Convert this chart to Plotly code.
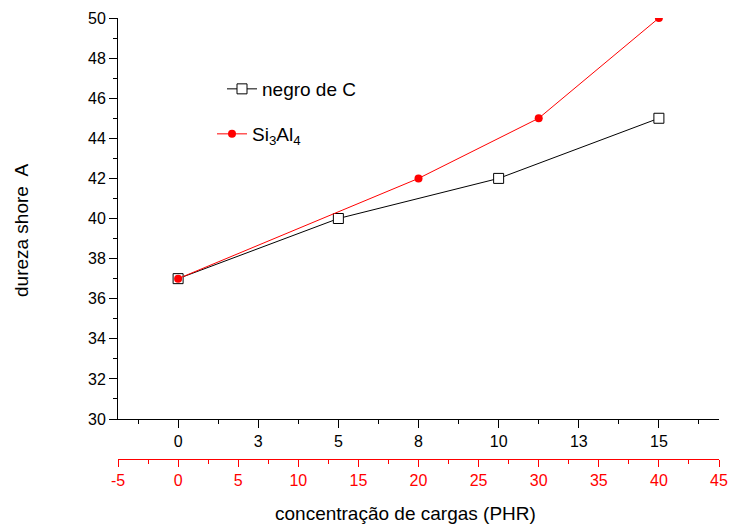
import plotly.graph_objects as go

# ---- data ----
negro_x = [0, 5, 10, 15]
negro_y = [37, 40, 42, 45]
si_x = [0, 20, 30, 40]
si_y = [37, 42, 45, 50]

black_tickvals = [0, 2.5, 5, 7.5, 10, 12.5, 15]
black_ticktext = ["0", "3", "5", "8", "10", "13", "15"]
red_tickvals = [-5, 0, 5, 10, 15, 20, 25, 30, 35, 40, 45]
red_ticktext = ["-5", "0", "5", "10", "15", "20", "25", "30", "35", "40", "45"]
y_tickvals = [30, 32, 34, 36, 38, 40, 42, 44, 46, 48, 50]

W, H = 731, 527
ML, MR, MT, MB = 118, 12, 18, 68
PW = W - ML - MR
PH = H - MT - MB
plot_bottom = 419
ydom0 = ((H - MB) - plot_bottom) / PH

def px_x(px):
    return (px - ML) / PW

def px_y(py):
    return ((H - MB) - py) / PH

FONT = "Liberation Sans, Arial, sans-serif"
TICK = 16

fig = go.Figure()
fig.add_trace(go.Scatter(
    x=negro_x, y=negro_y, name="negro de C", mode="lines+markers",
    line=dict(color="#000000", width=1),
    marker=dict(symbol="square", size=10, color="#ffffff",
                line=dict(color="#000000", width=1)),
    xaxis="x", yaxis="y", legend="legend",
))
fig.add_trace(go.Scatter(
    x=si_x, y=si_y, name="Si<sub>3</sub>Al<sub>4</sub>", mode="lines+markers",
    line=dict(color="#ff0000", width=1),
    marker=dict(symbol="circle", size=8, color="#ff0000"),
    xaxis="x2", yaxis="y", legend="legend2",
))

fig.update_layout(
    template="none",
    width=W, height=H,
    margin=dict(l=ML, r=MR, t=MT, b=MB, pad=0),
    paper_bgcolor="white", plot_bgcolor="white",
    font=dict(family=FONT, size=TICK, color="#000000"),
    showlegend=True,
    xaxis=dict(
        domain=[0, 1], range=[-1.875, 16.875],
        tickmode="array", tickvals=black_tickvals, ticktext=black_ticktext,
        ticks="outside", ticklen=8, tickwidth=1, tickcolor="#000000",
        showline=True, linecolor="#000000", linewidth=1,
        showgrid=False, zeroline=False, automargin=False,
        minor=dict(tick0=0, dtick=1.25, ticks="outside", ticklen=4,
                   tickcolor="#000000", showgrid=False),
        tickfont=dict(size=TICK, color="#000000"),
        anchor="y",
    ),
    xaxis2=dict(
        overlaying="x", anchor="free", position=0, side="bottom",
        range=[-5, 45], automargin=False,
        tickmode="array", tickvals=red_tickvals, ticktext=red_ticktext,
        ticks="outside", ticklen=7, tickwidth=1, tickcolor="#ff0000",
        showline=True, linecolor="#ff0000", linewidth=1,
        showgrid=False, zeroline=False,
        minor=dict(tick0=0, dtick=2.5, ticks="outside", ticklen=4,
                   tickcolor="#ff0000", showgrid=False),
        tickfont=dict(size=TICK, color="#ff0000"),
    ),
    yaxis=dict(
        domain=[ydom0, 1], range=[30, 50], automargin=False,
        tickmode="array", tickvals=y_tickvals,
        ticks="outside", ticklen=8, tickwidth=1, tickcolor="#000000",
        showline=True, linecolor="#000000", linewidth=1,
        showgrid=False, zeroline=False,
        minor=dict(tick0=30, dtick=1, ticks="outside", ticklen=4,
                   tickcolor="#000000", showgrid=False),
        tickfont=dict(size=TICK, color="#000000"),
        anchor="x",
    ),
    legend=dict(
        x=px_x(222), y=px_y(89), xanchor="left", yanchor="middle",
        bgcolor="rgba(0,0,0,0)", borderwidth=0,
        font=dict(family=FONT, size=19, color="#000000"),
    ),
    legend2=dict(
        x=px_x(212), y=px_y(134), xanchor="left", yanchor="middle",
        bgcolor="rgba(0,0,0,0)", borderwidth=0,
        font=dict(family=FONT, size=19, color="#000000"),
    ),
    annotations=[
        dict(text="concentração de cargas (PHR)", xref="paper", yref="paper",
             x=px_x(405), y=px_y(513), xanchor="center", yanchor="middle",
             showarrow=False, font=dict(family=FONT, size=19, color="#000000")),
        dict(text="dureza shore  A", xref="paper", yref="paper",
             x=px_x(21), y=px_y(231), xanchor="center", yanchor="middle",
             textangle=-90, showarrow=False,
             font=dict(family=FONT, size=19, color="#000000")),
    ],
)

fig.write_html("out.html")
